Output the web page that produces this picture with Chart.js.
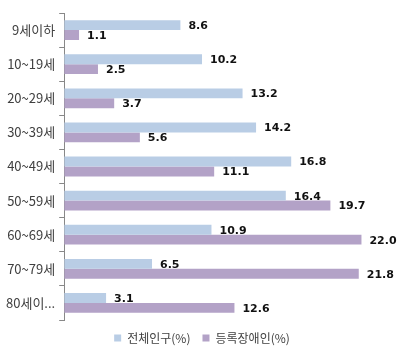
<!DOCTYPE html>
<html><head><meta charset="utf-8">
<script src="https://cdn.jsdelivr.net/npm/chart.js@4/dist/chart.umd.min.js"></script>
<style>html,body{margin:0;padding:0;background:#fff}canvas{display:block}</style>
</head><body>
<canvas id="c" width="416" height="360"></canvas>
<script>
const categories = ['9세이하','10~19세','20~29세','30~39세','40~49세','50~59세','60~69세','70~79세','80세이...'];
const totalPop = [8.6,10.2,13.2,14.2,16.8,16.4,10.9,6.5,3.1];
const disabledPop = [1.1,2.5,3.7,5.6,11.1,19.7,22.0,21.8,12.6];
const seriesNames = ['전체인구(%)','등록장애인(%)'];

const labelPlugin = {
  id: 'valueLabels',
  afterDatasetsDraw(chart) {
    const ctx = chart.ctx;
    ctx.save();
    ctx.font = 'bold 11px "DejaVu Sans"';
    ctx.fillStyle = '#111';
    ctx.textAlign = 'left';
    ctx.textBaseline = 'middle';
    chart.data.datasets.forEach((ds, i) => {
      const meta = chart.getDatasetMeta(i);
      meta.data.forEach((bar, j) => {
        ctx.fillText(ds.data[j].toFixed(1), bar.x + 8, bar.y + 1);
      });
    });
    ctx.restore();
  }
};

new Chart(document.getElementById('c'), {
  type: 'bar',
  data: {
    labels: categories,
    datasets: [
      {label: seriesNames[0], data: totalPop, backgroundColor: '#b9cde5', categoryPercentage: 0.58, barPercentage: 1.0},
      {label: seriesNames[1], data: disabledPop, backgroundColor: '#b3a2c7', categoryPercentage: 0.58, barPercentage: 1.0}
    ]
  },
  options: {
    indexAxis: 'y',
    responsive: false,
    animation: false,
    layout: {padding: {top: 13, right: 14, left: 2, bottom: 6}},
    scales: {
      x: {display: false, min: 0, max: 25},
      y: {
        grid: {offset: true, drawOnChartArea: false, tickLength: 5, color: '#888'},
        border: {display: true, color: '#888'},
        ticks: {color: '#404040', font: {family: '"Noto Sans CJK KR"', size: 13}, padding: 4}
      }
    },
    plugins: {
      legend: {
        position: 'bottom',
        labels: {boxWidth: 7, boxHeight: 7, padding: 12, color: '#404040', font: {family: '"Noto Sans CJK KR"', size: 12}}
      },
      tooltip: {enabled: false}
    }
  },
  plugins: [labelPlugin]
});
</script>
</body></html>
